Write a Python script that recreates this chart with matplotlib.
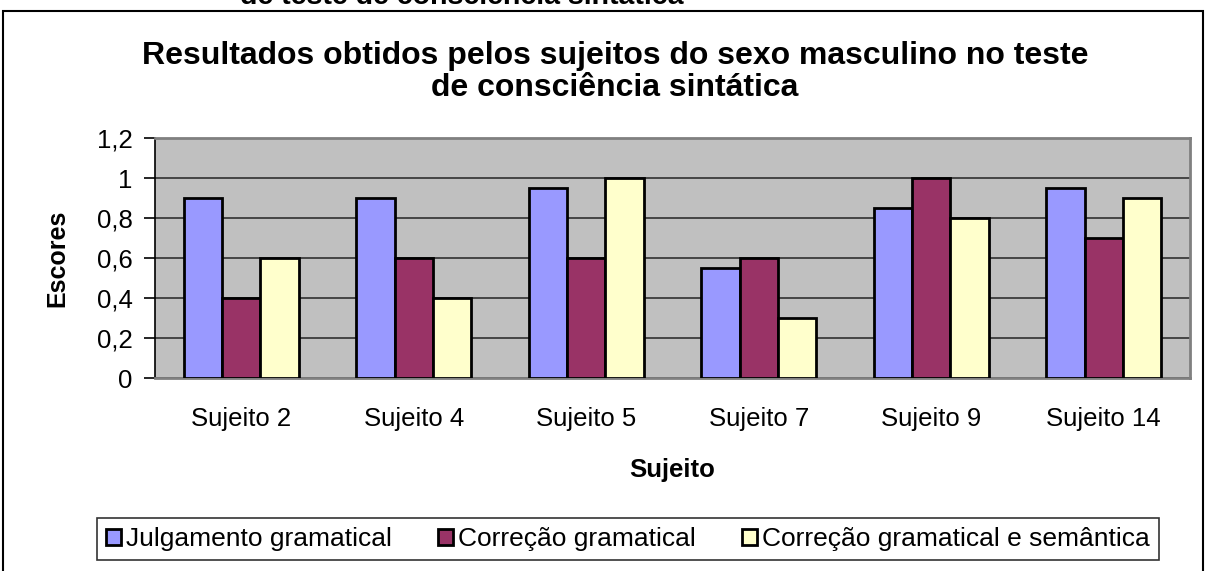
import matplotlib.pyplot as plt
import numpy as np
from matplotlib.patches import Rectangle

plt.rcParams['font.family'] = ['Liberation Sans', 'DejaVu Sans']

sujeitos = ['Sujeito 2', 'Sujeito 4', 'Sujeito 5', 'Sujeito 7', 'Sujeito 9', 'Sujeito 14']
julgamento = [0.9, 0.9, 0.95, 0.55, 0.85, 0.95]
correcao = [0.4, 0.6, 0.6, 0.6, 1.0, 0.7]
correcao_sem = [0.6, 0.4, 1.0, 0.3, 0.8, 0.9]
series_names = ['Julgamento gramatical', 'Correção gramatical',
                'Correção gramatical e semântica']
colors = ['#9999FF', '#993366', '#FFFFCC']
yticks = [0, 0.2, 0.4, 0.6, 0.8, 1.0, 1.2]
ytick_labels = ['0', '0,2', '0,4', '0,6', '0,8', '1', '1,2']

W, H = 1208, 571
fig = plt.figure(figsize=(W / 100, H / 100), dpi=100)

# outer chart border
fig.patches.append(Rectangle((3 / W, -0.1), 1200 / W, (H - 11) / H + 0.1,
                             transform=fig.transFigure, fill=False,
                             edgecolor='black', linewidth=1.5))

# cut off caption from the page above
fig.text(462 / W, 1 - 4 / H, 'de teste de consciência sintática', ha='center',
         va='baseline', fontsize=20.5, fontweight='bold')

ax = fig.add_axes([155 / W, 1 - 378 / H, (1190 - 155) / W, (378 - 138) / H])
ax.set_facecolor('#C0C0C0')

x = np.arange(len(sujeitos))
bw = 1 / 4.5
for i, (vals, c) in enumerate(zip([julgamento, correcao, correcao_sem], colors)):
    ax.bar(x + (i - 1) * bw, vals, bw, color=c, edgecolor='black',
           linewidth=2, label=series_names[i], zorder=3)

ax.set_xlim(-0.5, len(sujeitos) - 0.5)
ax.set_ylim(0, 1.2)
ax.set_yticks(yticks)
ax.set_yticklabels(ytick_labels, fontsize=18.5)
ax.set_xticks(x)
ax.set_xticklabels(sujeitos, fontsize=18.5)
ax.tick_params(axis='x', length=0, pad=21)
ax.tick_params(axis='y', length=8, width=1.2, direction='out', pad=8)
ax.yaxis.grid(True, color='#303030', linewidth=1.2, zorder=1)
ax.set_axisbelow(True)
for s in ['top', 'right']:
    ax.spines[s].set_color('#808080')
    ax.spines[s].set_linewidth(2)
ax.spines['left'].set_linewidth(1.2)
ax.spines['bottom'].set_color('#808080')
ax.spines['bottom'].set_linewidth(2)

ax.set_ylabel('Escores', fontsize=18, fontweight='bold', labelpad=20)
ax.set_xlabel('Sujeito', fontsize=18.5, fontweight='bold', labelpad=19)

fig.text(615 / W, 1 - 72 / H,
         'Resultados obtidos pelos sujeitos do sexo masculino no teste\nde consciência sintática',
         ha='center', va='center', fontsize=23, fontweight='bold', linespacing=1.05)

leg = fig.legend(loc='center', bbox_to_anchor=(628 / W, 1 - 539 / H), ncol=3,
                 fontsize=19, frameon=True, fancybox=False, edgecolor='black',
                 handlelength=0.55, handleheight=0.55, handletextpad=0.2,
                 columnspacing=1.75, borderpad=0.35)
leg.get_frame().set_linewidth(1.2)

fig.savefig('out.png', dpi=100)
